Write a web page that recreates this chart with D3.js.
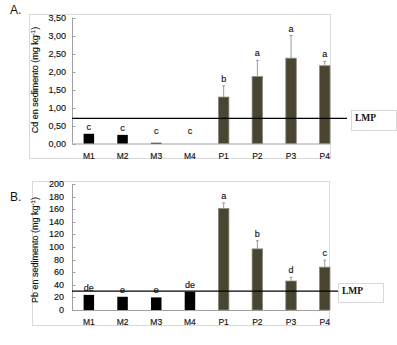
<!DOCTYPE html>
<html><head><meta charset="utf-8">
<script src="https://cdn.jsdelivr.net/npm/d3@7"></script>
<style>body{margin:0;background:#fff}svg{display:block}</style>
</head><body><svg id="c" width="397" height="345"></svg>
<script>
const categories = ["M1","M2","M3","M4","P1","P2","P3","P4"];
const cdValues = [0.27,0.24,0.02,0,1.29,1.86,2.37,2.16];
const cdErrors = [0,0,0,0,0.31,0.45,0.63,0.12];
const cdLetters = ["c","c","c","c","b","a","a","a"];
const cdTicks = [0,0.5,1,1.5,2,2.5,3,3.5];
const cdLimit = 0.7;
const pbValues = [24,21,20,29,161,97,46,68];
const pbErrors = [0,0,0,0,9,13,6,11];
const pbLetters = ["de","e","e","de","a","b","d","c"];
const pbTicks = [0,20,40,60,80,100,120,140,160,180,200];
const pbLimit = 30;

const svg = d3.select("#c");
const fmtCd = v => d3.format(".2f")(v).replace(".", ",");

function panel(o){
  const g = svg.append("g");
  g.append("rect").attr("x",o.fx0+0.5).attr("y",o.fy0+0.5).attr("width",o.fx1-o.fx0).attr("height",o.fy1-o.fy0)
   .attr("fill","none").attr("stroke","#d9d9d9");
  const x = d3.scaleBand().domain(categories).range([72,341.6]);
  const y = d3.scaleLinear().domain([0,o.max]).range([o.y0,o.y1]);
  const barW = 10.5;
  g.append("line").attr("x1",72.5).attr("x2",72.5).attr("y1",o.y1).attr("y2",o.y0).attr("stroke","#a0a0a0");
  o.ticks.forEach(t=>{
    g.append("line").attr("x1",72.5).attr("x2",75.5).attr("y1",Math.round(y(t))+0.5).attr("y2",Math.round(y(t))+0.5).attr("stroke","#a0a0a0");
    g.append("text").attr("x",o.tx).attr("y",y(t)+3).attr("text-anchor","end")
     .attr("font-family","Liberation Sans, Arial").attr("font-size",9).attr("fill","#111").attr("stroke","#111").attr("stroke-width",0.15).text(o.fmt(t));
  });
  g.append("line").attr("x1",72).attr("x2",o.fx1).attr("y1",o.y0+0.5).attr("y2",o.y0+0.5).attr("stroke","#a0a0a0");
  categories.forEach((c,i)=>{
    const cx = x(c)+x.bandwidth()/2;
    g.append("text").attr("x",cx).attr("y",o.y0+15).attr("text-anchor","middle")
     .attr("font-family","Liberation Sans, Arial").attr("font-size",8.5).attr("fill","#111").attr("stroke","#111").attr("stroke-width",0.15).text(c);
    const v = o.values[i], e = o.errors[i];
    const isP = c[0]==="P";
    if (v>0){
      g.append("rect").attr("x",cx-barW/2).attr("y",y(v)).attr("width",barW).attr("height",o.y0-y(v))
       .attr("fill",isP?"#4a4530":"#000").attr("stroke",isP?"#8a8a80":"none").attr("stroke-width",0.8);
    }
    let top = y(v);
    if (e>0){
      top = y(v+e);
      g.append("line").attr("x1",cx).attr("x2",cx).attr("y1",y(v)).attr("y2",y(v+e)).attr("stroke","#9a9a9a").attr("stroke-width",1);
      g.append("line").attr("x1",cx-1.5).attr("x2",cx+1.5).attr("y1",y(v+e)).attr("y2",y(v+e)).attr("stroke","#9a9a9a").attr("stroke-width",1);
    }
    g.append("text").attr("x",cx).attr("y",Math.min(top,o.y0-6)-4).attr("text-anchor","middle")
     .attr("font-family","Liberation Sans, Arial").attr("font-size",9).attr("fill","#111").attr("stroke","#111").attr("stroke-width",0.15).text(o.letters[i]);
  });
  g.append("line").attr("x1",72).attr("x2",o.lx1).attr("y1",y(o.limit)).attr("y2",y(o.limit)).attr("stroke","#000").attr("stroke-width",1.2);
  g.append("rect").attr("x",o.bx+0.5).attr("y",o.by+0.5).attr("width",o.bw).attr("height",o.bh).attr("fill","#fff").attr("stroke","#d9d9d9");
  g.append("text").attr("x",o.bx+4).attr("y",o.by+11).attr("font-family","Liberation Serif, Times New Roman").attr("font-size",9.5)
   .attr("font-weight","bold").attr("fill","#111").text("LMP");
  g.append("text").attr("transform",`translate(${o.titleX},${o.titleY}) rotate(-90)`).attr("text-anchor","middle")
   .attr("font-family","Liberation Sans, Arial").attr("font-size",9).attr("fill","#111").attr("stroke","#111").attr("stroke-width",0.15)
   .html(o.title + ' (mg kg<tspan dy="-3" font-size="6">-1</tspan><tspan dy="3">)</tspan>');
  g.append("text").attr("x",o.labX).attr("y",o.labY).attr("font-family","Liberation Sans, Arial").attr("font-size",12).attr("fill","#111").text(o.label);
}

panel({fx0:29,fx1:330,fy0:14,fy1:158,y0:143.5,y1:17.5,max:3.5,ticks:cdTicks,fmt:fmtCd,tx:66,
  values:cdValues,errors:cdErrors,letters:cdLetters,limit:cdLimit,lx1:347,bx:351,by:110,bw:45,bh:20,
  title:"Cd en sedimento",titleX:38,titleY:80,label:"A.",labX:10,labY:14});
panel({fx0:32,fx1:329,fy0:181,fy1:325,y0:310,y1:184,max:200,ticks:pbTicks,fmt:d=>d,tx:64,
  values:pbValues,errors:pbErrors,letters:pbLetters,limit:pbLimit,lx1:338,bx:338,by:283,bw:45,bh:19,
  title:"Pb en sedimento",titleX:38,titleY:250,label:"B.",labX:10,labY:201});
</script></body></html>
